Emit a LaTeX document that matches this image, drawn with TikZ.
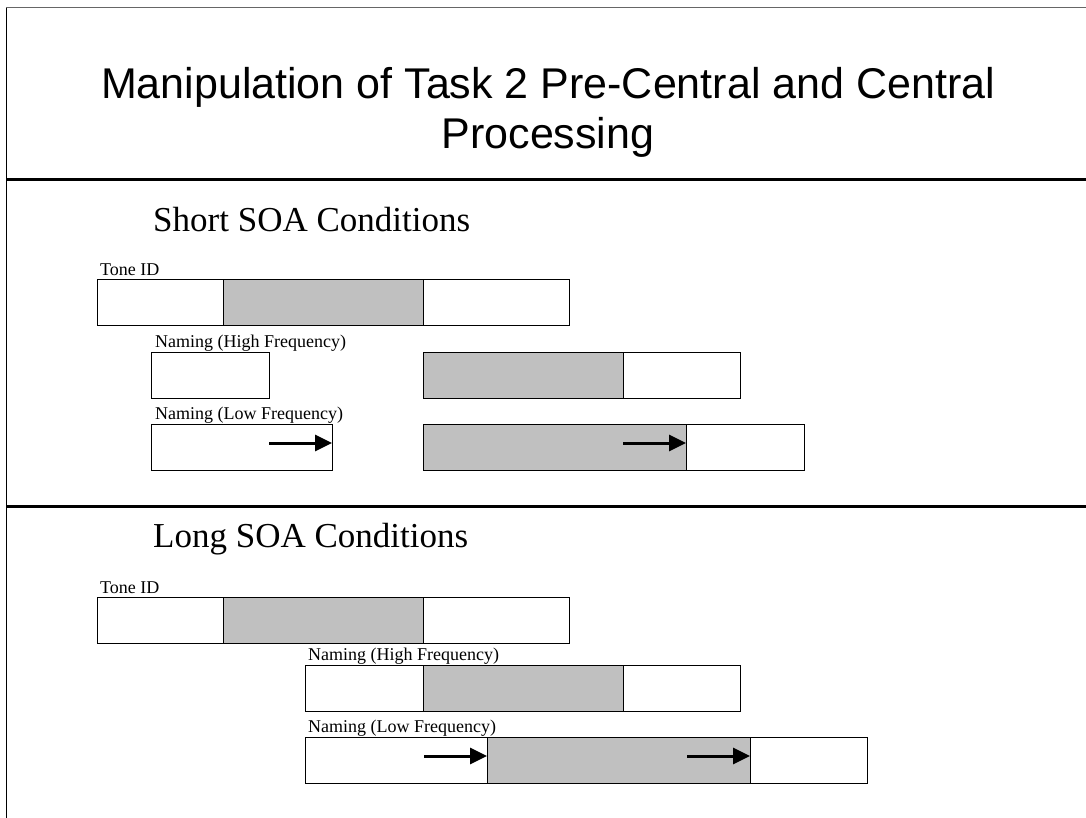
\documentclass[tikz,border=0pt]{standalone}
\usepackage{fontspec}
\setmainfont{Liberation Serif}
\newfontfamily\titlefont{Liberation Sans}
\usetikzlibrary{arrows.meta, positioning}

\definecolor{busy}{RGB}{192,192,192}

\begin{document}
\begin{tikzpicture}[
    x=1pt, y=-1pt,
    seg/.style={draw=black, line width=0.9pt, fill=white, rectangle, inner sep=0pt, outer sep=0pt, minimum height=46pt},
    busyseg/.style={seg, fill=busy},
    lbl/.style={font=\fontsize{18}{20}\selectfont, inner sep=0pt, anchor=base west},
    head/.style={font=\fontsize{35}{40}\selectfont, inner sep=0pt, anchor=base west},
    rule/.style={line width=3pt, black},
    arrow/.style={line width=3pt, -{Triangle[length=17pt, width=16pt]}}
]
\useasboundingbox (0,0) rectangle (1086,818);

% slide frame
\draw[gray!80!black, line width=1pt] (6,8) -- (1086,8);
\draw[black, line width=1.6pt] (6.5,8) -- (6.5,818);
\draw[rule] (6,180) -- (1086,180);
\draw[rule] (6,506) -- (1086,506);

\node (title) [font=\titlefont\fontsize{43}{50}\selectfont, align=center, inner sep=0pt, anchor=north] at (548,67)
    {Manipulation of Task 2 Pre-Central and Central\\Processing};

% ---- short SOA ----
\node (shorthead) [head] at (153,232) {Short SOA Conditions};

\node (toneA) [seg, minimum width=126pt, anchor=north west] at (97,279) {};
\node (toneB) [busyseg, minimum width=200pt, right=0pt of toneA] {};
\node (toneC) [seg, minimum width=146pt, right=0pt of toneB] {};

\node (highA) [seg, minimum width=118pt, anchor=north west] at (151,352) {};
\node (highB) [busyseg, minimum width=200pt, anchor=north west] at (423,352) {};
\node (highC) [seg, minimum width=117pt, right=0pt of highB] {};

\node (lowA) [seg, minimum width=181pt, anchor=north west] at (151,424) {};
\node (lowB) [busyseg, minimum width=263pt, anchor=north west] at (423,424) {};
\node (lowC) [seg, minimum width=118pt, right=0pt of lowB] {};

\node (toneLbl) [lbl] at ([xshift=3pt, yshift=4pt]toneA.north west) {Tone ID};
\node (highLbl) [lbl] at ([xshift=4pt, yshift=5pt]highA.north west) {Naming (High Frequency)};
\node (lowLbl) [lbl] at ([xshift=4pt, yshift=5pt]lowA.north west) {Naming (Low Frequency)};

\draw[arrow] ([xshift=-63pt, yshift=4pt]lowA.east) -- ([yshift=4pt]lowA.east);
\draw[arrow] ([xshift=-63pt, yshift=4pt]lowB.east) -- ([yshift=4pt]lowB.east);

% ---- long SOA ----
\node (longhead) [head] at (153,547) {Long SOA Conditions};

\node (ltoneA) [seg, minimum width=126pt, anchor=north west] at (97,597) {};
\node (ltoneB) [busyseg, minimum width=200pt, right=0pt of ltoneA] {};
\node (ltoneC) [seg, minimum width=146pt, right=0pt of ltoneB] {};

\node (lhighA) [seg, minimum width=118pt, anchor=north west] at (305,665) {};
\node (lhighB) [busyseg, minimum width=200pt, right=0pt of lhighA] {};
\node (lhighC) [seg, minimum width=117pt, right=0pt of lhighB] {};

\node (llowA) [seg, minimum width=182pt, anchor=north west] at (305,737) {};
\node (llowB) [busyseg, minimum width=263pt, right=0pt of llowA] {};
\node (llowC) [seg, minimum width=117pt, right=0pt of llowB] {};

\node (ltoneLbl) [lbl] at ([xshift=3pt, yshift=4pt]ltoneA.north west) {Tone ID};
\node (lhighLbl) [lbl] at ([xshift=3pt, yshift=5pt]lhighA.north west) {Naming (High Frequency)};
\node (llowLbl) [lbl] at ([xshift=3pt, yshift=5pt]llowA.north west) {Naming (Low Frequency)};

\draw[arrow] ([xshift=-63pt, yshift=4pt]llowA.east) -- ([yshift=4pt]llowA.east);
\draw[arrow] ([xshift=-63pt, yshift=4pt]llowB.east) -- ([yshift=4pt]llowB.east);

\end{tikzpicture}
\end{document}
